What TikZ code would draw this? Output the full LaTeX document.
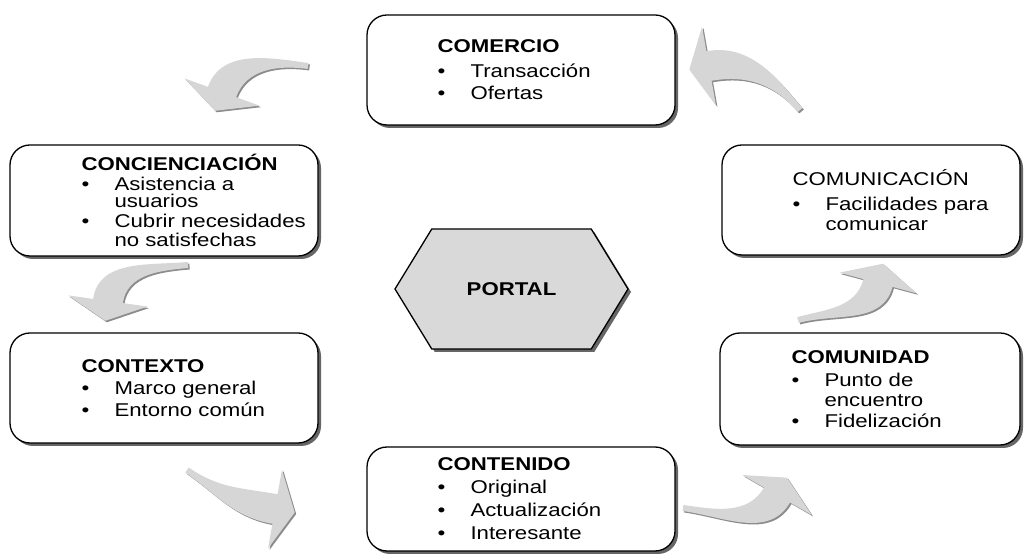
\documentclass[tikz,border=0pt]{standalone}
\usepackage{fontspec}
\setmainfont{Liberation Sans}[FakeStretch=1.2]
\usepackage{tikz}
\usetikzlibrary{positioning, calc, shadows, shapes.symbols}

\newcommand{\pto}{\makebox[33pt][l]{\textbullet}}
\newcommand{\sgt}{\hspace*{33pt}}
\newcommand{\flecha}[4]{%
	\fill[flecha] ($(#1)+(#3+90:3)$) to[out=#3, in=#4] ($(#2)+(#4-90:15)$)
		-- ($(#2)+(#4-90:40)$) -- ($(#2)+(#4+180:20)$) -- ($(#2)+(#4+90:40)$)
		-- ($(#2)+(#4+90:15)$) to[out=#4, in=#3] ($(#1)+(#3-90:3)$) -- cycle;
}

\begin{document}
\begin{tikzpicture}[x=1pt, y=1pt, font=\fontsize{18.5}{19.5}\selectfont]
			\tikzset{caja/.style={draw, line width=1.3pt, rounded corners=20pt, fill=white, minimum width=308pt, minimum height=110pt, drop shadow={shadow xshift=3pt, shadow yshift=-3pt, fill=black!60, opacity=1}}}
			\tikzset{texto/.style={align=left, inner sep=0pt}}
			\tikzset{hexa/.style={signal, signal to=east and west, signal pointer angle=117, draw, line width=1.3pt, fill=black!15, minimum width=233pt, minimum height=120pt, drop shadow={shadow xshift=3pt, shadow yshift=-3pt, fill=black!60, opacity=1}}}
			\tikzset{flecha/.style={fill=black!16, drop shadow={shadow xshift=1.5pt, shadow yshift=-1.5pt, fill=black!45, opacity=1}}}

			\useasboundingbox (0,0) rectangle (1026,554);

			\node (portal) [hexa] at (511.5,265) {\textbf{PORTAL}};

			\node (comercio) [caja] at (521,484) {};
			\node (t-comercio) [texto, right=71pt of comercio.west] {\textbf{COMERCIO}\\[5pt] \pto Transacción\\[3pt] \pto Ofertas};

			\node (concienciacion) [caja, minimum height=111pt] at (164,353.5) {};
			\node (t-concienciacion) [texto, right=72pt of concienciacion.west] {\textbf{CONCIENCIACIÓN}\\ \pto Asistencia a\\[-2pt] \sgt usuarios\\ \pto Cubrir necesidades\\ \sgt no satisfechas};

			\node (contexto) [caja] at (164,166) {};
			\node (t-contexto) [texto, right=72pt of contexto.west] {\textbf{CONTEXTO}\\[2.5pt] \pto Marco general\\[2.5pt] \pto Entorno común};

			\node (contenido) [caja, minimum height=104pt] at (521,55) {};
			\node (t-contenido) [texto, right=71pt of contenido.west] {\textbf{CONTENIDO}\\[3.5pt] \pto Original\\[3.5pt] \pto Actualización\\[3.5pt] \pto Interesante};

			\node (comunidad) [caja, minimum width=300pt, minimum height=112pt] at (870,165) {};
			\node (t-comunidad) [texto, right=72pt of comunidad.west] {\textbf{COMUNIDAD}\\[4pt] \pto Punto de\\ \sgt encuentro\\[2pt] \pto Fidelización};

			\node (comunicacion) [caja, minimum width=298pt] at (871,354) {};
			\node (t-comunicacion) [texto, right=71pt of comunicacion.west] {COMUNICACIÓN\\[6pt] \pto Facilidades para\\ \sgt comunicar};

			% flechas del ciclo
			\coordinate (f1a) at (308,488); \coordinate (f1b) at (222,462);
			\coordinate (f2a) at (188,289); \coordinate (f2b) at (108,253);
			\coordinate (f3a) at (187,84);  \coordinate (f3b) at (275,45);
			\coordinate (f4a) at (683,46);  \coordinate (f4b) at (777,59);
			\coordinate (f5a) at (798,234); \coordinate (f5b) at (878,271);
			\coordinate (f6a) at (800,444); \coordinate (f6b) at (709,488);

			\flecha{f1a}{f1b}{172}{70}
			\flecha{f2a}{f2b}{185}{82}
			\flecha{f3a}{f3b}{-35}{170}
			\flecha{f4a}{f4b}{-8}{240}
			\flecha{f5a}{f5b}{15}{255}
			\flecha{f6a}{f6b}{130}{10}
\end{tikzpicture}
\end{document}
